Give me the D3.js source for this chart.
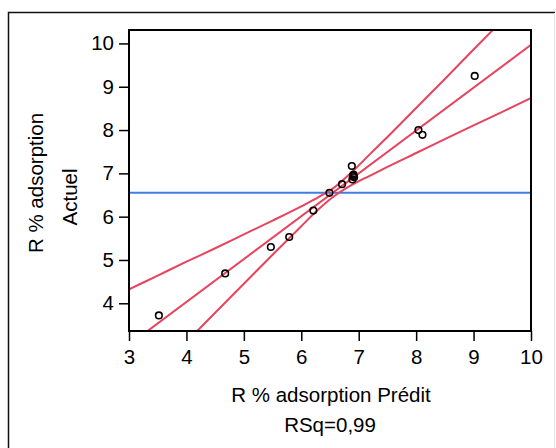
<!DOCTYPE html>
<html>
<head>
<meta charset="utf-8">
<script src="https://cdn.jsdelivr.net/npm/d3@7"></script>
<style>
  body { margin: 0; background: #fff; }
  svg { display: block; font-family: "Liberation Sans", Arial, sans-serif; }
</style>
</head>
<body>
<div id="content"></div>
<script>
// Valeurs
const predicted = [3.52, 4.675, 5.47, 5.79, 6.21, 6.49, 6.71, 6.88, 6.89, 6.90, 6.91, 6.92, 8.04, 8.11, 9.02];
const actual    = [3.72, 4.69, 5.30, 5.53, 6.14, 6.55, 6.75, 7.17, 6.86, 6.94, 6.97, 6.91, 8.00, 7.89, 9.25];

// Droite d'ajustement et moyenne
const fitX = [3, 10];
const fitY = [3.04, 9.97];
const meanActual = 6.55;

// Courbes de confiance
const curveX     = [3, 3.5, 4, 4.5, 5, 5.5, 6, 6.3, 6.57, 6.85, 7.2, 7.5, 8, 8.5, 9, 9.5, 10];
const upperCurve = [4.32, 4.64, 4.96, 5.27, 5.59, 5.91, 6.24, 6.45, 6.67, 6.99, 7.45, 7.84, 8.51, 9.18, 9.86, 10.53, 11.20];
const lowerCurve = [1.76, 2.43, 3.11, 3.78, 4.45, 5.12, 5.78, 6.17, 6.47, 6.71, 6.95, 7.15, 7.47, 7.79, 8.11, 8.42, 8.74];

const xTicks = [3, 4, 5, 6, 7, 8, 9, 10];
const yTicks = [4, 5, 6, 7, 8, 9, 10];

const width = 556, height = 448;
const plot = { left: 129, right: 531, top: 30, bottom: 331 };
const fontSize = 20.5;

const svg = d3.select('#content').append('svg')
    .attr('width', width)
    .attr('height', height);

// Cadre extérieur
svg.append('path')
    .attr('d', `M8.5,${height} V12.5 H555`)
    .attr('fill', 'none')
    .attr('stroke', '#111')
    .attr('stroke-width', 1.5);
svg.append('line')
    .attr('x1', 554.5).attr('x2', 554.5)
    .attr('y1', 13).attr('y2', height)
    .attr('stroke', '#e4e4e4')
    .attr('stroke-width', 1);

const x = d3.scaleLinear().domain([3, 10]).range([plot.left, plot.right]);
const y = d3.scaleLinear().domain([3.36, 10.31]).range([plot.bottom, plot.top]);

svg.append('clipPath')
    .attr('id', 'clip')
    .append('rect')
    .attr('x', plot.left)
    .attr('y', plot.top)
    .attr('width', plot.right - plot.left)
    .attr('height', plot.bottom - plot.top);

const inner = svg.append('g').attr('clip-path', 'url(#clip)');

// Ligne de la moyenne
inner.append('line')
    .attr('x1', x(3)).attr('x2', x(10))
    .attr('y1', y(meanActual)).attr('y2', y(meanActual))
    .attr('stroke', '#3f7fe3')
    .attr('stroke-width', 2);

const line = d3.line()
    .x(d => x(d[0]))
    .y(d => y(d[1]))
    .curve(d3.curveMonotoneX);

[upperCurve, lowerCurve].forEach(c => {
    inner.append('path')
        .datum(curveX.map((v, i) => [v, c[i]]))
        .attr('d', line)
        .attr('fill', 'none')
        .attr('stroke', '#e8435e')
        .attr('stroke-width', 2);
});

inner.append('path')
    .datum(fitX.map((v, i) => [v, fitY[i]]))
    .attr('d', d3.line().x(d => x(d[0])).y(d => y(d[1])))
    .attr('fill', 'none')
    .attr('stroke', '#e8435e')
    .attr('stroke-width', 2);

// Points
svg.append('g')
    .selectAll('circle')
    .data(predicted.map((v, i) => [v, actual[i]]))
    .enter()
    .append('circle')
    .attr('cx', d => x(d[0]))
    .attr('cy', d => y(d[1]))
    .attr('r', 3.3)
    .attr('fill', 'none')
    .attr('stroke', '#000')
    .attr('stroke-width', 1.6);

// Axes
const xAxis = svg.append('g')
    .attr('transform', `translate(0,${plot.bottom})`)
    .call(d3.axisBottom(x).tickValues(xTicks).tickFormat(d3.format('d')).tickSize(10).tickPadding(8));
const yAxis = svg.append('g')
    .attr('transform', `translate(${plot.left},0)`)
    .call(d3.axisLeft(y).tickValues(yTicks).tickFormat(d3.format('d')).tickSize(10).tickPadding(5));

[xAxis, yAxis].forEach(a => {
    a.select('.domain').remove();
    a.selectAll('line').attr('stroke', '#000').attr('stroke-width', 1.5);
    a.selectAll('text')
        .attr('fill', '#000')
        .style('font-size', fontSize + 'px')
        .style('font-family', '"Liberation Sans", Arial, sans-serif');
});

// Cadre du graphique
svg.append('rect')
    .attr('x', plot.left)
    .attr('y', plot.top)
    .attr('width', plot.right - plot.left)
    .attr('height', plot.bottom - plot.top)
    .attr('fill', 'none')
    .attr('stroke', '#000')
    .attr('stroke-width', 2);

// Titres
svg.append('text')
    .attr('x', 331)
    .attr('y', 402)
    .attr('text-anchor', 'middle')
    .style('font-size', fontSize + 'px')
    .text('R % adsorption Prédit');

svg.append('text')
    .attr('x', 330)
    .attr('y', 432)
    .attr('text-anchor', 'middle')
    .style('font-size', fontSize + 'px')
    .text('RSq=0,99');

svg.append('text')
    .attr('transform', 'translate(43,183) rotate(-90)')
    .attr('text-anchor', 'middle')
    .style('font-size', fontSize + 'px')
    .text('R % adsorption');

svg.append('text')
    .attr('transform', 'translate(77,197) rotate(-90)')
    .attr('text-anchor', 'middle')
    .style('font-size', fontSize + 'px')
    .text('Actuel');
</script>
</body>
</html>
